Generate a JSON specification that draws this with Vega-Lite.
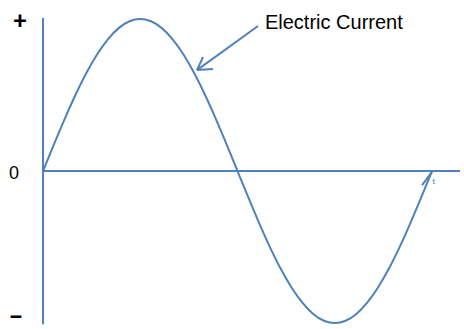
{
  "$schema": "https://vega.github.io/schema/vega-lite/v6.json",
  "width": 464,
  "height": 329,
  "autosize": {"type": "none"},
  "padding": 0,
  "background": "white",
  "config": {"view": {"stroke": null}},
  "datasets": {
    "wave": [
      {"x": 0, "y": 0}, {"x": 10, "y": 0.174}, {"x": 20, "y": 0.342}, {"x": 30, "y": 0.5},
      {"x": 40, "y": 0.643}, {"x": 50, "y": 0.766}, {"x": 60, "y": 0.866}, {"x": 70, "y": 0.94},
      {"x": 80, "y": 0.985}, {"x": 90, "y": 1.0}, {"x": 100, "y": 0.985}, {"x": 110, "y": 0.94},
      {"x": 120, "y": 0.866}, {"x": 130, "y": 0.766}, {"x": 140, "y": 0.643}, {"x": 150, "y": 0.5},
      {"x": 160, "y": 0.342}, {"x": 170, "y": 0.174}, {"x": 180, "y": 0}, {"x": 190, "y": -0.174},
      {"x": 200, "y": -0.342}, {"x": 210, "y": -0.5}, {"x": 220, "y": -0.643}, {"x": 230, "y": -0.766},
      {"x": 240, "y": -0.866}, {"x": 250, "y": -0.94}, {"x": 260, "y": -0.985}, {"x": 270, "y": -1.0},
      {"x": 280, "y": -0.985}, {"x": 290, "y": -0.94}, {"x": 300, "y": -0.866}, {"x": 310, "y": -0.766},
      {"x": 320, "y": -0.643}, {"x": 330, "y": -0.5}, {"x": 340, "y": -0.342}, {"x": 350, "y": -0.174},
      {"x": 360, "y": 0}
    ],
    "segs": [
      {"x": 0, "y": 1.007, "x2": 0, "y2": -1.007},
      {"x": 0, "y": 0, "x2": 385.9, "y2": 0},
      {"x": 199.0, "y": 0.954, "x2": 142.5, "y2": 0.664},
      {"x": 142.5, "y": 0.664, "x2": 148.1, "y2": 0.75},
      {"x": 142.5, "y": 0.664, "x2": 157.3, "y2": 0.671},
      {"x": 360, "y": -0.005, "x2": 350.8, "y2": -0.092}
    ],
    "signs": [
      {"x": -21.3, "y": 0.98, "t": "+"},
      {"x": -25, "y": -0.965, "t": "−"}
    ],
    "zero": [{"x": -26.8, "y": -0.02, "t": "0"}],
    "title": [{"x": 205.4, "y": 0.975, "t": "Electric Current"}],
    "tlab": [{"x": 361.5, "y": -0.075, "t": "t"}]
  },
  "layer": [
    {
      "data": {"name": "segs"},
      "mark": {"type": "rule", "color": "#4F81BD", "strokeWidth": 2},
      "encoding": {
        "x": {"field": "x", "type": "quantitative", "scale": {"domain": [-39.8, 389.6], "nice": false, "zero": false}, "axis": null},
        "y": {"field": "y", "type": "quantitative", "scale": {"domain": [-1.039, 1.125], "nice": false, "zero": false}, "axis": null},
        "x2": {"field": "x2"},
        "y2": {"field": "y2"}
      }
    },
    {
      "data": {"name": "wave"},
      "mark": {"type": "line", "color": "#4F81BD", "strokeWidth": 2, "interpolate": "monotone"},
      "encoding": {
        "x": {"field": "x", "type": "quantitative"},
        "y": {"field": "y", "type": "quantitative"}
      }
    },
    {
      "data": {"name": "signs"},
      "mark": {"type": "text", "font": "Lato", "baseline": "middle", "align": "center", "fontSize": 24, "fontWeight": 900, "color": "black"},
      "encoding": {
        "x": {"field": "x", "type": "quantitative"},
        "y": {"field": "y", "type": "quantitative"},
        "text": {"field": "t"}
      }
    },
    {
      "data": {"name": "zero"},
      "mark": {"type": "text", "font": "Liberation Sans", "baseline": "middle", "align": "center", "fontSize": 18, "color": "black"},
      "encoding": {
        "x": {"field": "x", "type": "quantitative"},
        "y": {"field": "y", "type": "quantitative"},
        "text": {"field": "t"}
      }
    },
    {
      "data": {"name": "title"},
      "mark": {"type": "text", "font": "Liberation Sans", "baseline": "middle", "align": "left", "fontSize": 20, "color": "black"},
      "encoding": {
        "x": {"field": "x", "type": "quantitative"},
        "y": {"field": "y", "type": "quantitative"},
        "text": {"field": "t"}
      }
    },
    {
      "data": {"name": "tlab"},
      "mark": {"type": "text", "font": "Lato", "baseline": "middle", "align": "center", "fontSize": 8, "color": "#4F81BD"},
      "encoding": {
        "x": {"field": "x", "type": "quantitative"},
        "y": {"field": "y", "type": "quantitative"},
        "text": {"field": "t"}
      }
    }
  ]
}
